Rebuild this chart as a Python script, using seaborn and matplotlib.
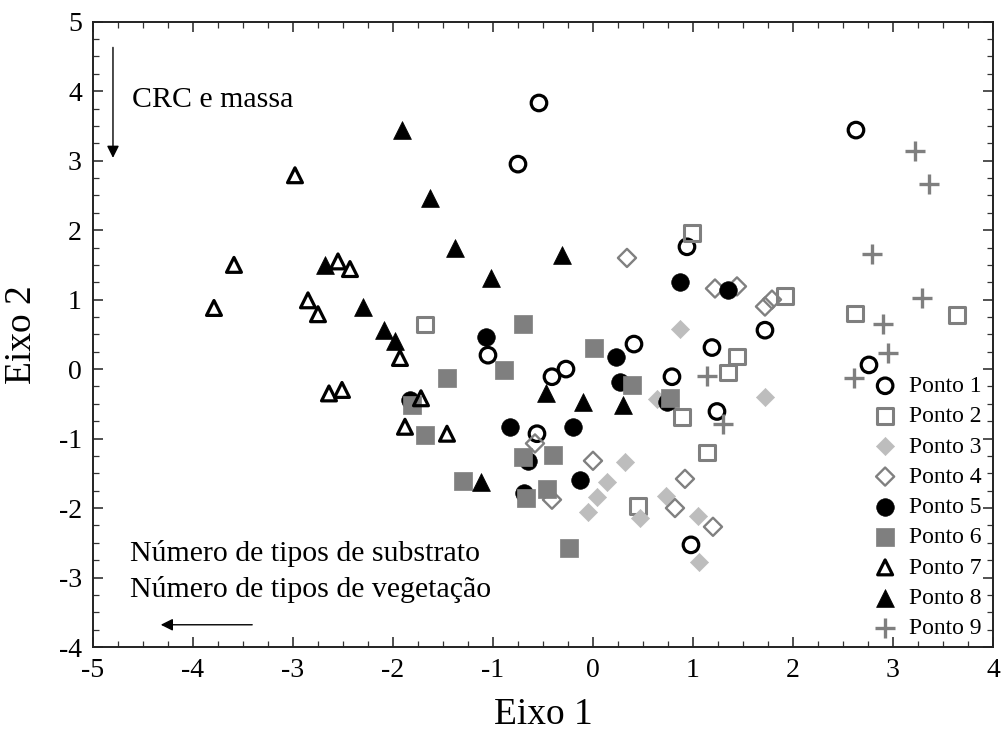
import matplotlib
matplotlib.use("Agg")
import matplotlib.pyplot as plt
import seaborn as sns
import pandas as pd
from matplotlib.ticker import MultipleLocator

# ---- data ----
p1_x = [-0.54, -0.75, 0.94, 2.63, 1.72, 1.19, 1.24, 2.76, -1.05, 0.41, -0.41, -0.27, 0.79, -0.56, 0.98]
p1_y = [3.83, 2.95, 1.76, 3.44, 0.56, 0.31, -0.61, 0.06, 0.20, 0.36, -0.11, 0.00, -0.11, -0.93, -2.53]

p2_x = [0.99, 1.92, 2.62, 3.64, 1.44, 1.35, 1.14, -1.68, 0.89, 0.45]
p2_y = [1.96, 1.05, 0.80, 0.78, 0.18, -0.05, -1.20, 0.64, -0.69, -1.97]

p3_x = [0.87, 1.72, 0.64, 0.32, 0.14, 0.04, -0.05, 0.47, 0.73, 1.05, 1.06]
p3_y = [0.57, -0.40, -0.43, -1.34, -1.63, -1.84, -2.05, -2.15, -1.83, -2.11, -2.77]

p4_x = [0.34, 1.22, 1.44, 1.72, 1.79, -0.58, -0.41, 0.00, 0.92, 0.82, 1.20]
p4_y = [1.60, 1.16, 1.19, 0.90, 1.00, -1.07, -1.88, -1.32, -1.58, -2.00, -2.27]

p5_x = [1.35, 0.87, -1.07, 0.23, 0.27, 0.74, -1.83, -0.83, -0.20, -0.65, -0.69, -0.13]
p5_y = [1.14, 1.25, 0.46, 0.18, -0.18, -0.47, -0.44, -0.84, -0.84, -1.33, -1.78, -1.59]

p6_x = [-0.70, -0.89, -1.46, 0.01, 0.39, 0.77, -1.81, -1.68, -0.70, -0.40, -1.30, -0.67, -0.46, -0.24]
p6_y = [0.65, -0.01, -0.13, 0.30, -0.23, -0.42, -0.52, -0.95, -1.26, -1.24, -1.61, -1.86, -1.73, -2.58]

p7_x = [-2.98, -3.59, -3.79, -2.55, -2.43, -2.85, -2.75, -1.93, -2.64, -2.51, -1.72, -1.88, -1.46]
p7_y = [2.79, 1.50, 0.88, 1.55, 1.44, 0.99, 0.79, 0.16, -0.35, -0.30, -0.42, -0.83, -0.93]

p8_x = [-1.91, -1.63, -1.38, -0.31, -1.02, -2.68, -2.30, -2.09, -1.98, -0.47, -0.10, 0.30, -1.12]
p8_y = [3.44, 2.46, 1.74, 1.64, 1.31, 1.50, 0.90, 0.56, 0.40, -0.35, -0.47, -0.52, -1.63]

p9_x = [3.22, 3.36, 2.79, 3.29, 2.90, 2.95, 2.61, 1.14, 1.30]
p9_y = [3.14, 2.67, 1.66, 1.03, 0.65, 0.23, -0.13, -0.10, -0.79]

labels = ["Ponto 1", "Ponto 2", "Ponto 3", "Ponto 4", "Ponto 5",
          "Ponto 6", "Ponto 7", "Ponto 8", "Ponto 9"]
xs = [p1_x, p2_x, p3_x, p4_x, p5_x, p6_x, p7_x, p8_x, p9_x]
ys = [p1_y, p2_y, p3_y, p4_y, p5_y, p6_y, p7_y, p8_y, p9_y]

x_ticks = [-5, -4, -3, -2, -1, 0, 1, 2, 3, 4]
y_ticks = [-4, -3, -2, -1, 0, 1, 2, 3, 4, 5]

# ---- styles ----
styles = [
    dict(marker="o", facecolor="none", edgecolor="black", lw=2.3, s=125),
    dict(marker="s", facecolor="none", edgecolor="#7f7f7f", lw=2.2, s=125),
    dict(marker="D", facecolor="#bdbdbd", edgecolor="#bdbdbd", lw=0.5, s=85),
    dict(marker="D", facecolor="none", edgecolor="#808080", lw=1.7, s=85),
    dict(marker="o", facecolor="black", edgecolor="black", lw=0.5, s=160),
    dict(marker="s", facecolor="#7f7f7f", edgecolor="#7f7f7f", lw=0.5, s=160),
    dict(marker="^", facecolor="none", edgecolor="black", lw=2.3, s=115),
    dict(marker="^", facecolor="black", edgecolor="black", lw=0.5, s=165),
    dict(marker="+", facecolor="#7f7f7f", edgecolor="#7f7f7f", lw=2.4, s=210),
]

sns.set_style("ticks")
plt.rcParams["font.family"] = ["Liberation Serif", "DejaVu Serif"]
plt.rcParams["axes.unicode_minus"] = False
plt.rcParams["text.color"] = "black"
plt.rcParams["axes.labelcolor"] = "black"
plt.rcParams["xtick.color"] = "black"
plt.rcParams["ytick.color"] = "black"

fig = plt.figure(figsize=(10.03, 7.38), dpi=100)
ax = fig.add_axes([0.0927, 0.1233, 0.8973, 0.8473])

frames = []
for lab, x, y in zip(labels, xs, ys):
    frames.append(pd.DataFrame({"Eixo 1": x, "Eixo 2": y, "grupo": lab}))
df = pd.concat(frames, ignore_index=True)

for lab, st in zip(labels, styles):
    sub = df[df["grupo"] == lab]
    if st["marker"] == "+":
        sns.scatterplot(data=sub, x="Eixo 1", y="Eixo 2", ax=ax, marker="+",
                        color=st["edgecolor"], s=st["s"], linewidth=st["lw"],
                        label=lab, zorder=3)
    else:
        sns.scatterplot(data=sub, x="Eixo 1", y="Eixo 2", ax=ax, marker=st["marker"],
                        facecolor=st["facecolor"], edgecolor=st["edgecolor"],
                        s=st["s"], linewidth=st["lw"], label=lab, zorder=3)

ax.set_xlim(-5, 4)
ax.set_ylim(-4, 5)
ax.set_xticks(x_ticks)
ax.set_yticks(y_ticks)
ax.set_xticklabels([str(v) for v in x_ticks])
ax.set_yticklabels([str(v) for v in y_ticks])
ax.xaxis.set_minor_locator(MultipleLocator(0.25))
ax.yaxis.set_minor_locator(MultipleLocator(0.25))
ax.tick_params(which="both", direction="in", top=True, right=True, color="#333333")
ax.tick_params(which="major", length=7, width=1.2, labelsize=20, pad=8)
ax.tick_params(which="minor", length=4, width=0.9)
for sp in ax.spines.values():
    sp.set_linewidth(1.4)
    sp.set_color("#222222")

ax.set_xlabel("Eixo 1", fontsize=27, labelpad=10)
ax.set_ylabel("Eixo 2", fontsize=27, labelpad=14)

# annotations
ax.annotate("", xy=(-4.8, 3.0), xytext=(-4.8, 4.67),
            arrowprops=dict(arrowstyle="-|>", color="black", lw=1.0, mutation_scale=18))
ax.text(-4.61, 3.88, "CRC e massa", fontsize=21.5, va="center", ha="left")
ax.text(-4.63, -2.66, "Número de tipos de substrato", fontsize=21.5, va="center", ha="left")
ax.text(-4.63, -3.17, "Número de tipos de vegetação", fontsize=21.5, va="center", ha="left")
ax.annotate("", xy=(-4.35, -3.68), xytext=(-3.38, -3.68),
            arrowprops=dict(arrowstyle="-|>", color="black", lw=1.0, mutation_scale=18))

leg = ax.legend(loc="lower left", bbox_to_anchor=(0.85, -0.01), frameon=False,
                fontsize=17, handletextpad=0.45, labelspacing=0.37, borderaxespad=0.2,
                handlelength=1.1)

fig.savefig("out.png", dpi=100)
